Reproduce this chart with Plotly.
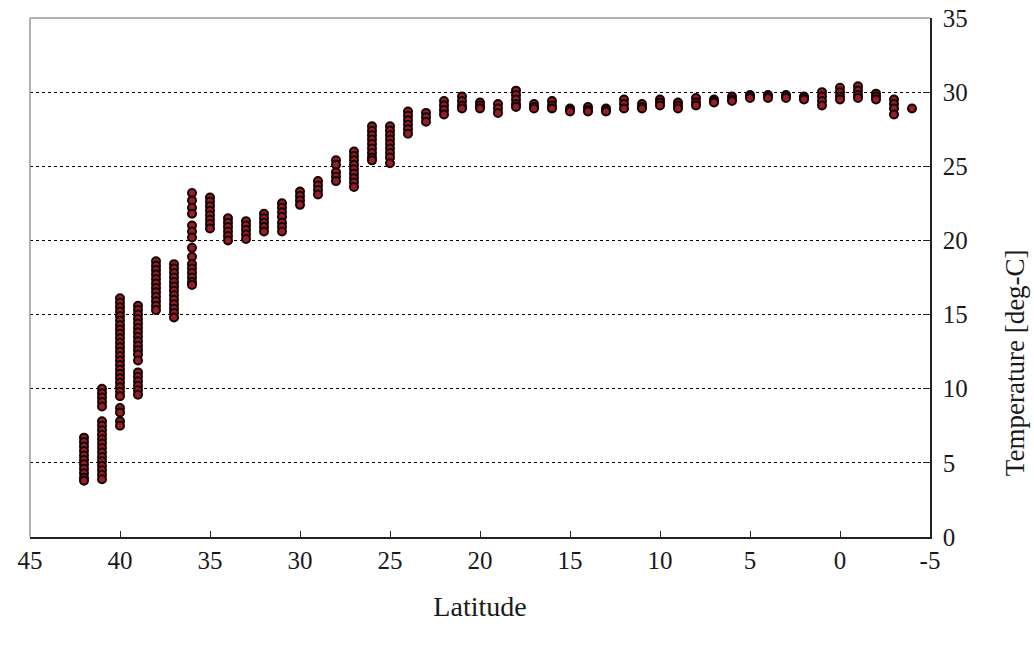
import plotly.graph_objects as go

# Latitude of each sampling column
latitudes = [42, 41, 40, 39, 38, 37, 36, 35, 34, 33, 32, 31, 30, 29, 28, 27, 26, 25,
             24, 23, 22, 21, 20, 19, 18, 17, 16, 15, 14, 13, 12, 11, 10, 9, 8, 7, 6,
             5, 4, 3, 2, 1, 0, -1, -2, -3, -4]

# Temperatures (deg-C) observed at each latitude column
temps_by_lat = [
    [6.7, 6.4, 6.1, 5.8, 5.5, 5.2, 4.9, 4.6, 4.3, 4.0, 3.8],
    [10.0, 9.7, 9.4, 9.1, 8.8, 7.8, 7.5, 7.2, 6.9, 6.6, 6.3, 6.0, 5.7, 5.4, 5.1, 4.8, 4.5, 4.2, 3.9],
    [16.1, 15.8, 15.5, 15.2, 14.9, 14.6, 14.3, 14.0, 13.7, 13.4, 13.1, 12.8, 12.5, 12.2, 11.9,
     11.6, 11.3, 11.0, 10.7, 10.4, 10.1, 9.8, 9.5, 8.7, 8.4, 7.8, 7.5],
    [15.6, 15.3, 15.0, 14.7, 14.4, 14.1, 13.8, 13.5, 13.2, 12.9, 12.6, 12.3, 11.9, 11.1, 10.8,
     10.5, 10.2, 9.9, 9.6],
    [18.6, 18.3, 18.0, 17.7, 17.4, 17.1, 16.8, 16.5, 16.2, 15.9, 15.6, 15.3],
    [18.4, 18.1, 17.8, 17.5, 17.2, 16.9, 16.6, 16.3, 16.0, 15.7, 15.4, 15.1, 14.8],
    [23.2, 22.7, 22.2, 21.8, 21.0, 20.6, 20.2, 19.5, 18.9, 18.4, 18.1, 17.8, 17.5, 17.2, 17.0],
    [22.9, 22.6, 22.3, 22.0, 21.7, 21.4, 21.1, 20.8],
    [21.5, 21.2, 20.9, 20.6, 20.3, 20.0],
    [21.3, 21.0, 20.7, 20.4, 20.1],
    [21.8, 21.5, 21.2, 20.9, 20.6],
    [22.5, 22.2, 21.9, 21.6, 21.2, 20.9, 20.6],
    [23.3, 23.0, 22.7, 22.4],
    [24.0, 23.7, 23.4, 23.1],
    [25.4, 25.1, 24.6, 24.3, 24.0],
    [26.0, 25.7, 25.4, 25.1, 24.8, 24.5, 24.2, 23.9, 23.6],
    [27.7, 27.4, 27.1, 26.8, 26.5, 26.2, 25.9, 25.6, 25.4],
    [27.7, 27.4, 27.1, 26.8, 26.5, 26.2, 25.9, 25.6, 25.2],
    [28.7, 28.4, 28.1, 27.8, 27.5, 27.2],
    [28.6, 28.3, 28.0],
    [29.4, 29.1, 28.8, 28.5],
    [29.7, 29.4, 29.1, 28.9],
    [29.3, 29.1, 28.9],
    [29.2, 28.9, 28.6],
    [30.1, 29.8, 29.5, 29.2, 29.0],
    [29.2, 29.0, 28.9],
    [29.4, 29.1, 28.9],
    [28.9, 28.8, 28.7],
    [29.0, 28.8, 28.7],
    [28.9, 28.8, 28.7],
    [29.5, 29.2, 28.9],
    [29.2, 29.0, 28.9],
    [29.5, 29.3, 29.1],
    [29.3, 29.1, 28.9],
    [29.6, 29.3, 29.1],
    [29.5, 29.4, 29.3],
    [29.7, 29.5, 29.4],
    [29.8, 29.7, 29.6],
    [29.8, 29.7, 29.6],
    [29.8, 29.7, 29.6],
    [29.7, 29.6, 29.5],
    [30.0, 29.7, 29.4, 29.1],
    [30.3, 30.0, 29.7, 29.5],
    [30.4, 30.1, 29.8, 29.6],
    [29.9, 29.7, 29.5],
    [29.5, 29.2, 28.9, 28.5],
    [28.9],
]

x_ticks = [45, 40, 35, 30, 25, 20, 15, 10, 5, 0, -5]
y_ticks = [0, 5, 10, 15, 20, 25, 30, 35]

xs, ys = [], []
for lat, temps in zip(latitudes, temps_by_lat):
    for t in temps:
        xs.append(lat)
        ys.append(t)

font_family = "Liberation Serif, Times New Roman, serif"

fig = go.Figure()
fig.add_trace(go.Scatter(
    x=xs, y=ys, mode="markers",
    marker=dict(size=8, color="#9a1c25", line=dict(color="#150303", width=2)),
    showlegend=False, hoverinfo="skip",
))

fig.update_layout(
    width=1034, height=648,
    margin=dict(l=30, r=104, t=18, b=111),
    paper_bgcolor="white", plot_bgcolor="white",
    font=dict(family=font_family, size=25, color="#1a1a1a"),
    xaxis=dict(
        range=[45, -5], tickvals=x_ticks, ticktext=[str(v) for v in x_ticks],
        showgrid=False, zeroline=False, automargin=False,
        showline=True, linecolor="#222", linewidth=1.5,
        ticks="inside", ticklen=6, tickcolor="#222", tickwidth=1,
        ticklabelstandoff=0, ticklabeloverflow="allow",
        title=dict(text="Latitude", font=dict(size=28), standoff=24),
    ),
    yaxis=dict(
        range=[0, 35], tickvals=y_ticks, ticktext=[str(v) for v in y_ticks],
        side="right",
        showgrid=True, gridcolor="#000", griddash="dot", gridwidth=1,
        zeroline=False, automargin=False,
        showline=True, linecolor="#222", linewidth=1.5,
        ticks="inside", ticklen=7, tickcolor="#222", tickwidth=1,
        ticklabelstandoff=6, ticklabeloverflow="allow",
    ),
    annotations=[
        dict(text="Temperature [deg-C]", xref="paper", yref="paper",
             x=1, y=0.335, xshift=85, xanchor="center", yanchor="middle",
             textangle=-90, showarrow=False, font=dict(size=27)),
    ],
    shapes=[
        dict(type="line", xref="paper", yref="paper", x0=0, x1=1, y0=1, y1=1,
             line=dict(color="#9a9a9a", width=1.5)),
        dict(type="line", xref="paper", yref="paper", x0=0, x1=0, y0=0, y1=1,
             line=dict(color="#9a9a9a", width=1.5)),
    ],
)

fig.write_html("out.html", post_script="document.body.style.margin='0';",
               config={"displayModeBar": False})
